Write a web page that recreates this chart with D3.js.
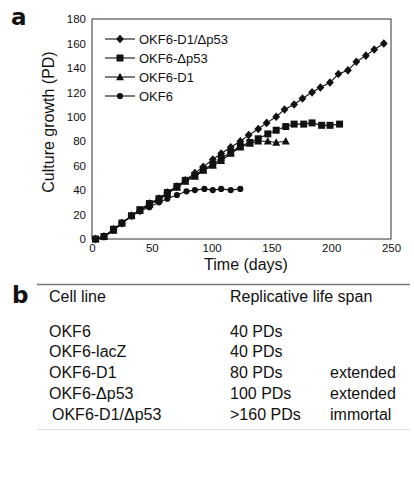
<!DOCTYPE html>
<html>
<head>
<meta charset="utf-8">
<script src="https://cdn.jsdelivr.net/npm/d3@7"></script>
<style>
  html, body { margin: 0; padding: 0; background: #fff; }
  svg text { font-family: "Liberation Sans", Arial, Helvetica, sans-serif; fill: #111; }
</style>
</head>
<body>
<svg id="chart" width="414" height="492"></svg>
<script>
// ---------- data ----------
const seriesNames = ["OKF6-D1/\u0394p53", "OKF6-\u0394p53", "OKF6-D1", "OKF6"];
const seriesMarkers = ["diamond", "square", "triangle", "circle"];

const daysD1p53 = [3, 10, 18, 25, 33, 40, 48, 56, 63, 71, 78, 86, 93, 101, 108, 116, 124, 131, 139, 146, 154, 161, 169, 176, 184, 191, 199, 206, 214, 221, 229, 236, 244];
const pdD1p53   = [0, 2, 8, 13, 19, 23, 29, 33, 38, 43, 48, 54, 59, 65, 70, 75, 80, 85, 90, 95, 100, 106, 110, 115, 120, 124, 128, 135, 138, 145, 150, 155, 160];

const daysP53 = [3, 10, 18, 25, 33, 40, 48, 56, 63, 71, 78, 86, 93, 101, 108, 116, 124, 132, 139, 147, 154, 162, 169, 177, 184, 192, 199, 207];
const pdP53   = [0, 2, 8, 13, 19, 24, 29, 33, 38, 43, 48, 52, 57, 61, 66, 71, 76, 79, 82, 86, 89, 92, 94, 94, 95, 93, 93, 94];

const daysD1 = [3, 10, 18, 25, 33, 40, 48, 56, 63, 71, 78, 86, 93, 101, 108, 116, 124, 132, 139, 147, 154, 162];
const pdD1   = [0, 2, 7, 13, 19, 23, 28, 32, 37, 42, 47, 51, 56, 60, 64, 70, 75, 78, 80, 80, 79, 80];

const daysOKF6 = [3, 10, 18, 25, 33, 40, 48, 56, 63, 71, 79, 86, 94, 101, 108, 116, 124];
const pdOKF6   = [0, 2, 7, 13, 19, 23, 26, 30, 33, 36, 39, 40, 41, 40, 41, 40, 41];

const xTicks = [0, 50, 100, 150, 200, 250];
const yTicks = [0, 20, 40, 60, 80, 100, 120, 140, 160, 180];

const tableHeader = ["Cell line", "Replicative life span"];
const tableCellLines = ["OKF6", "OKF6-lacZ", "OKF6-D1", "OKF6-\u0394p53", "OKF6-D1/\u0394p53"];
const tableLifeSpan = ["40 PDs", "40 PDs", "80 PDs", "100 PDs", ">160 PDs"];
const tableNote = ["", "", "extended", "extended", "immortal"];

// ---------- layout ----------
const svg = d3.select("#chart");
const L = 92, R = 391, T = 19, B = 239;

const x = d3.scaleLinear().domain([0, 250]).range([L, R]);
const y = d3.scaleLinear().domain([0, 180]).range([B, T]);

// panel label a
svg.append("text").attr("x", 11).attr("y", 25)
  .style("font-family", "'DejaVu Sans', sans-serif")
  .style("font-weight", "bold").style("font-size", "23px").text("a");

// plot frame
svg.append("rect").attr("x", L).attr("y", T).attr("width", R - L).attr("height", B - T)
  .attr("fill", "none").attr("stroke", "#333").attr("stroke-width", 1);

// axes (labels only, no tick marks)
const xAxis = d3.axisBottom(x).tickValues(xTicks).tickSize(0).tickPadding(5);
const gx = svg.append("g").attr("transform", `translate(0,${B})`).call(xAxis);
gx.select(".domain").remove();
gx.selectAll("text").style("font-size", "11.5px").attr("fill", "#111");

const yAxis = d3.axisLeft(y).tickValues(yTicks).tickSize(0).tickPadding(6);
const gy = svg.append("g").attr("transform", `translate(${L},0)`).call(yAxis);
gy.select(".domain").remove();
gy.selectAll("text").style("font-size", "11.5px").attr("fill", "#111");

// axis titles
svg.append("text").attr("x", 246).attr("y", 270).attr("text-anchor", "middle")
  .style("font-size", "16px").text("Time (days)");
svg.append("text").attr("transform", "translate(54,122) rotate(-90)").attr("text-anchor", "middle")
  .style("font-size", "16px").text("Culture growth (PD)");

// markers
function markerPath(type) {
  switch (type) {
    case "diamond": return "M0,-4.3L3.9,0L0,4.3L-3.9,0Z";
    case "square": return "M-3.5,-3.5H3.5V3.5H-3.5Z";
    case "triangle": return "M0,-4.3L4,3.2L-4,3.2Z";
    default: return d3.symbol(d3.symbolCircle, 30)();
  }
}

const allSeries = [
  { name: seriesNames[0], marker: seriesMarkers[0], days: daysD1p53, pd: pdD1p53 },
  { name: seriesNames[1], marker: seriesMarkers[1], days: daysP53, pd: pdP53 },
  { name: seriesNames[2], marker: seriesMarkers[2], days: daysD1, pd: pdD1 },
  { name: seriesNames[3], marker: seriesMarkers[3], days: daysOKF6, pd: pdOKF6 }
];

const line = d3.line().x(d => x(d[0])).y(d => y(d[1]));

// draw in reverse so the top series ends up on top
allSeries.slice().reverse().forEach(s => {
  const pts = s.days.map((d, i) => [d, s.pd[i]]);
  svg.append("path").datum(pts).attr("d", line)
    .attr("fill", "none").attr("stroke", "#111").attr("stroke-width", 1.1);
  svg.append("g").selectAll("path").data(pts).join("path")
    .attr("transform", d => `translate(${x(d[0])},${y(d[1])})`)
    .attr("d", markerPath(s.marker)).attr("fill", "#111");
});

// legend
const legY = [39, 58, 77, 96];
allSeries.forEach((s, i) => {
  const g = svg.append("g").attr("transform", `translate(0,${legY[i]})`);
  g.append("line").attr("x1", 105).attr("x2", 135).attr("y1", 0).attr("y2", 0)
    .attr("stroke", "#111").attr("stroke-width", 1.1);
  g.append("path").attr("transform", "translate(120,0)").attr("d", markerPath(s.marker)).attr("fill", "#111");
  g.append("text").attr("x", 139).attr("y", 4.6).style("font-size", "13px").text(s.name);
});

// ---------- table b ----------
svg.append("text").attr("x", 12).attr("y", 303)
  .style("font-family", "'DejaVu Sans', sans-serif")
  .style("font-weight", "bold").style("font-size", "23px").text("b");

svg.append("line").attr("x1", 37).attr("x2", 410).attr("y1", 284.5).attr("y2", 284.5)
  .attr("stroke", "#777").attr("stroke-width", 1.5);

const colX = [49, 230, 330];
svg.append("text").attr("x", colX[0]).attr("y", 302).style("font-size", "16px").text(tableHeader[0]);
svg.append("text").attr("x", colX[1]).attr("y", 302).style("font-size", "16px").text(tableHeader[1]);

const rowY = [337, 357, 378, 399, 420];
tableCellLines.forEach((c, i) => {
  svg.append("text").attr("x", i === 4 ? 52 : colX[0]).attr("y", rowY[i]).style("font-size", "16px").text(c);
  svg.append("text").attr("x", colX[1]).attr("y", rowY[i]).style("font-size", "16px").text(tableLifeSpan[i]);
  if (tableNote[i]) svg.append("text").attr("x", colX[2]).attr("y", rowY[i]).style("font-size", "16px").text(tableNote[i]);
});

svg.append("line").attr("x1", 37).attr("x2", 410).attr("y1", 429.5).attr("y2", 429.5)
  .attr("stroke", "#ddd").attr("stroke-width", 1);
</script>
</body>
</html>
